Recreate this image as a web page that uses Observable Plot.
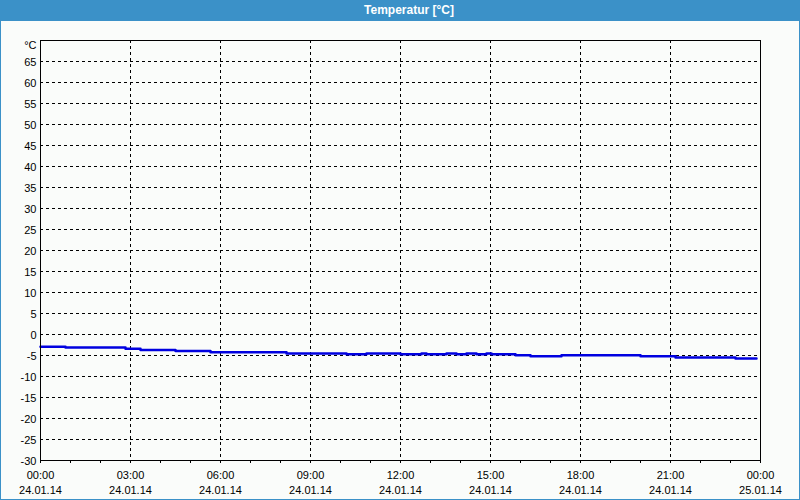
<!DOCTYPE html>
<html>
<head>
<meta charset="utf-8">
<script src="https://cdn.jsdelivr.net/npm/d3@7"></script>
<script src="https://cdn.jsdelivr.net/npm/@observablehq/plot@0.6"></script>
<style>
  html, body { margin: 0; padding: 0; background: #fafcfa; }
  #wrap { position: absolute; left: 0; top: 0; width: 800px; height: 500px; box-sizing: border-box;
          border: 1px solid #3b91c8; border-top: none; background: #fafcfa; overflow: hidden; }
  #title { height: 21px; line-height: 21px; background: #3b91c8; color: #fff; text-align: center;
           font-family: "Liberation Sans", sans-serif; font-weight: bold; font-size: 12px; margin: 0 -1px; padding-left: 18px; }
  #chart svg { display: block; }
</style>
</head>
<body>
<div id="wrap">
  <div id="title">Temperatur [°C]</div>
  <div id="chart"></div>
</div>
<script>
// Measured series (step values), 24.01.14
const times = ["00:00","00:50","02:50","03:20","04:30","05:40","08:12","10:12","10:52","12:00","12:42","12:52","13:32","13:52","14:12","14:32","14:52","15:02","15:50","16:20","17:22","20:00","21:10","23:10","23:52"];
const temps = [-2.9,-3.1,-3.4,-3.7,-3.9,-4.2,-4.5,-4.7,-4.5,-4.7,-4.5,-4.7,-4.5,-4.7,-4.5,-4.7,-4.5,-4.7,-4.95,-5.2,-4.95,-5.2,-5.45,-5.7,-5.7];

// Axis tick labels
const yTicks = [-30,-25,-20,-15,-10,-5,0,5,10,15,20,25,30,35,40,45,50,55,60,65];
const yGrid = [-25,-20,-15,-10,-5,0,5,10,15,20,25,30,35,40,45,50,55,60,65];
const yUnit = "°C";
const xTickTimes = ["00:00","03:00","06:00","09:00","12:00","15:00","18:00","21:00","00:00"];
const xTickDates = ["24.01.14","24.01.14","24.01.14","24.01.14","24.01.14","24.01.14","24.01.14","24.01.14","25.01.14"];

const parse = (d, t) => {
  const [dd, mm, yy] = d.split(".");
  return new Date(`20${yy}-${mm}-${dd}T${t}:00Z`);
};
const data = times.map((t, i) => ({ time: parse("24.01.14", t), temp: temps[i] }));
const xTicks = xTickTimes.map((t, i) => ({ date: parse(xTickDates[i], t), t, d: xTickDates[i] }));
const start = xTicks[0].date, end = xTicks[xTicks.length - 1].date;
const hours = d3.utcHour.range(start, new Date(+end + 1));
const innerGrid = xTicks.slice(1, -1).map(d => d.date);

const chart = Plot.plot({
  width: 798,
  height: 478,
  marginLeft: 39,
  marginRight: 39,
  marginTop: 19,
  marginBottom: 39,
  style: { background: "#fafcfa", fontFamily: "Liberation Sans, sans-serif", fontSize: "11px", color: "black" },
  x: { type: "utc", domain: [start, end], axis: null },
  y: { domain: [-30, 70], axis: null },
  marks: [
    Plot.ruleY(yGrid, { stroke: "black", strokeOpacity: 1, strokeDasharray: "3,3" }),
    Plot.ruleX(innerGrid, { stroke: "black", strokeOpacity: 1, strokeDasharray: "3,3" }),
    Plot.ruleX(hours, { y1: -30, y2: -30 - 3 / 4.2, stroke: "black" }),
    Plot.line(data, { x: "time", y: "temp", curve: "step-after", stroke: "#0000e0", strokeWidth: 2.5 }),
    Plot.frame({ stroke: "black" }),
    Plot.text(yTicks, { x: start, y: d => d, text: d => String(d), textAnchor: "end", dx: -4, dy: 1, fill: "black", fontSize: 11 }),
    Plot.text([yUnit], { x: start, y: 70, text: d => d, textAnchor: "end", dx: -4, dy: 5, fill: "black", fontSize: 11 }),
    Plot.text(xTicks, { x: "date", y: -30, text: "t", dy: 15, fill: "black", fontSize: 11 }),
    Plot.text(xTicks, { x: "date", y: -30, text: "d", dy: 30, fill: "black", fontSize: 11 })
  ]
});
document.getElementById("chart").appendChild(chart);
</script>
</body>
</html>
